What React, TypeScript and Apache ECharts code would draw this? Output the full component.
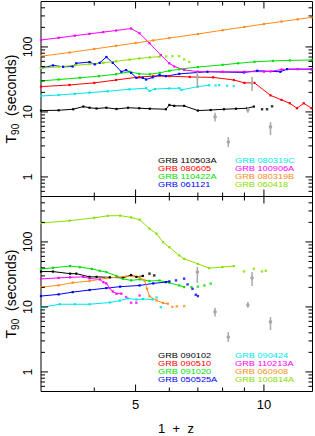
import React, { useEffect, useRef } from 'react';
import * as echarts from 'echarts';

type Pt = [number, number];

const FONT = 'Liberation Sans, Arial, Helvetica, sans-serif';

// ---------- legend / names ----------
const P1_NAMES = ['GRB 110503A', 'GRB 080605', 'GRB 110422A', 'GRB 061121', 'GRB 080319C', 'GRB 100906A', 'GRB 080319B', 'GRB 060418'];
const P2_NAMES = ['GRB 090102', 'GRB 090510', 'GRB 091020', 'GRB 050525A', 'GRB 090424', 'GRB 110213A', 'GRB 060908', 'GRB 100814A'];
const COLORS = ['#000000', '#ff0000', '#00e000', '#0000ff', '#00e6e6', '#ff00ff', '#ff8c1a', '#88e000'];

// ---------- axis ticks ----------
const X_MIN = 3;
const X_MAX = 13;
const Y_MIN = 0.5;
const Y_MAX = 500;
const X_MAJOR_TICKS = [5, 10];
const X_MINOR_TICKS = [4, 6, 7, 8, 9];
const Y_MAJOR_TICKS = [1, 10, 100];
const Y_MINOR_TICKS = [0.6, 0.7, 0.8, 0.9, 2, 3, 4, 5, 6, 7, 8, 9, 20, 30, 40, 50, 60, 70, 80, 90, 200, 300, 400];
const X_TICK_LABELS = [5, 10];
const Y_TICK_LABELS = [1, 10, 100];

// ---------- gray error-bar points (both panels) ----------
const ERR_X = [6.98, 9.38, 7.68, 9.17, 8.25, 10.36];
const ERR_Y = [34.5, 27.9, 8.4, 10.7, 3.45, 5.9];
const ERR_LO = [23.4, 21.0, 7.1, 9.7, 2.9, 4.4];
const ERR_HI = [41.3, 34.5, 9.7, 11.9, 4.1, 7.0];

// ---------- panel 1 series ----------
const P1_110503A: Pt[] = [[3.0, 10.5], [3.3, 10.6], [3.57, 11.0], [3.77, 12.1], [3.9, 11.6], [4.05, 11.3], [4.27, 11.6], [4.51, 11.1], [4.8, 11.6], [5.1, 11.4], [5.4, 11.2], [5.89, 11.0], [6.0, 12.8], [6.16, 12.4], [6.5, 12.4], [7.0, 10.5], [7.5, 10.7], [8.06, 11.0], [8.6, 11.2], [9.14, 11.4], [9.47, 12.1]];
const P1_110503A_DOTS: Pt[] = [[9.9, 11.0], [10.17, 11.0], [10.45, 12.2]];
const P1_080605: Pt[] = [[3.0, 24.5], [3.5, 26], [4.0, 28], [4.5, 31], [5.1, 34.5], [5.5, 35.5], [6.0, 35.5], [6.7, 34.5], [7.6, 34], [8.5, 31], [9.0, 28], [9.5, 28], [10.36, 18], [11.0, 15.3], [11.5, 13.6], [11.95, 11.4], [12.4, 13.6], [12.93, 11.4]];
const P1_110422A: Pt[] = [[3.0, 30], [3.3, 31.5], [3.7, 33.5], [4.1, 35.5], [4.5, 38], [4.84, 41.5], [5.1, 38.5], [5.4, 38], [5.7, 40], [6.0, 43], [6.33, 45.5], [7.0, 49], [8.0, 53], [8.7, 56], [9.5, 59], [10.5, 61], [11.5, 62], [12.93, 63]];
const P1_061121: Pt[] = [[3.0, 47], [3.2, 52], [3.38, 49.5], [3.56, 50], [3.63, 56], [3.9, 58.5], [4.01, 54], [4.12, 57], [4.27, 70], [4.42, 57], [4.63, 41.5], [4.75, 44], [4.88, 40], [5.02, 33.5], [5.2, 33.5], [5.29, 31.5], [5.48, 34], [5.69, 37], [5.89, 35.5], [6.33, 38.5], [7.37, 41.5], [8.98, 40.5], [9.64, 43], [10.93, 41.5], [11.33, 45.5], [12.93, 45.5]];
const P1_080319C: Pt[] = [[3.0, 17.6], [3.3, 18.2], [3.6, 19], [3.9, 19.8], [4.3, 20.8], [4.84, 22.3], [5.29, 23.2], [5.39, 21], [5.55, 22.5], [6.0, 23], [6.33, 23.2], [6.4, 21.8], [7.0, 24.5], [7.44, 25.7]];
const P1_080319C_DOTS: Pt[] = [[7.7, 25.5], [7.85, 25.8], [8.2, 25.3], [8.5, 25]];
const P1_100906A: Pt[] = [[3.0, 128], [3.3, 138], [3.6, 149], [3.9, 159], [4.2, 169], [4.5, 179], [4.88, 192], [5.11, 162], [5.39, 114], [5.73, 75], [6.0, 56], [6.16, 50], [6.5, 44.3], [7.0, 41.7], [8.0, 41.5], [9.0, 41.5], [10.0, 41.7], [10.36, 42], [11.0, 45], [12.0, 45.5], [12.93, 45.5]];
const P1_080319B: Pt[] = [[3.0, 72], [3.5, 82], [4.0, 93], [4.5, 104], [5.0, 115], [5.5, 126], [6.0, 137], [7.0, 158], [8.0, 181], [9.0, 203], [10.0, 225], [11.0, 246], [12.0, 266], [12.93, 285]];
const P1_060418: Pt[] = [[3.0, 47], [3.3, 49.5], [3.6, 52], [3.9, 54.5], [4.2, 57], [4.5, 60], [4.84, 64], [5.1, 66.5], [5.4, 69], [5.69, 71]];
const P1_060418_DOTS: Pt[] = [[5.9, 71.5], [6.1, 72], [6.33, 72], [6.5, 64.5], [6.68, 59]];

// ---------- panel 2 series ----------
const P2_090102: Pt[] = [[3.0, 35], [3.2, 35], [3.51, 32.5], [3.63, 32.5], [3.9, 29], [4.05, 29], [4.35, 28.5], [4.67, 28], [4.88, 31], [5.02, 29], [5.2, 30]];
const P2_090102_DOTS: Pt[] = [[5.39, 32.5], [5.53, 30.5]];
const P2_090510: Pt[] = [];
const P2_091020: Pt[] = [[3.0, 38.5], [3.2, 40], [3.51, 42.5], [3.7, 41], [3.95, 38.5], [4.12, 36], [4.27, 34.3], [4.51, 30], [4.67, 27], [4.88, 25.6], [5.11, 26.5], [5.39, 25], [5.69, 25.5], [6.0, 23.6], [6.33, 21.4], [6.5, 20.2]];
const P2_091020_DOTS: Pt[] = [[6.76, 20.2], [7.0, 20.5], [7.25, 21.4], [7.5, 22.8]];
const P2_050525A: Pt[] = [[3.0, 14.7], [3.3, 15.6], [3.56, 16.9], [3.9, 18.2], [4.27, 19.5], [4.6, 20.5], [5.11, 21.4], [5.5, 23], [5.89, 24.1], [6.0, 24.7]];
const P2_050525A_DOTS: Pt[] = [[6.22, 25.6], [6.5, 27.2], [6.62, 22.2], [6.8, 19], [6.92, 15.4], [7.0, 14.7]];
const P2_090424: Pt[] = [[3.0, 9.8], [3.32, 11], [3.6, 11], [3.9, 11], [4.35, 11.7], [4.59, 12.5], [4.8, 13.5], [5.02, 13], [5.2, 13.2], [5.48, 13]];
const P2_090424_DOTS: Pt[] = [[5.6, 14], [5.73, 9.9]];
const P2_110213A: Pt[] = [[3.0, 27], [3.3, 28], [3.51, 28.5], [3.77, 29], [3.9, 27.5], [4.12, 26.5], [4.2, 24], [4.27, 23], [4.35, 19.5], [4.42, 17.3], [4.51, 16], [4.63, 16]];
const P2_110213A_DOTS: Pt[] = [[4.75, 14.2], [4.88, 11.6], [5.02, 11.6], [5.11, 15]];
const P2_060908: Pt[] = [[3.0, 20.2], [3.3, 21.5], [3.56, 23.6], [3.9, 25], [4.27, 27.7], [4.75, 29.5], [4.95, 29.8], [5.11, 28.5], [5.25, 25.6], [5.32, 19], [5.39, 14.6], [5.6, 12.6], [5.8, 11.5], [5.95, 11.2]];
const P2_060908_DOTS: Pt[] = [[6.1, 10], [6.25, 10.2], [6.5, 10.3]];
const P2_100814A: Pt[] = [[3.0, 195], [3.5, 212], [4.0, 235], [4.3, 252], [4.6, 254], [4.88, 238], [5.11, 220], [5.39, 160], [5.6, 134], [5.8, 99], [6.0, 83], [6.33, 62], [6.5, 55], [7.0, 46], [7.44, 39.5], [7.99, 41], [8.5, 42.5]];
const P2_100814A_DOTS: Pt[] = [[8.98, 35.2], [9.47, 38.7], [9.9, 35.2], [10.1, 36]];

const P1_LINES: Pt[][] = [P1_110503A, P1_080605, P1_110422A, P1_061121, P1_080319C, P1_100906A, P1_080319B, P1_060418];
const P1_DOTS: Pt[][] = [P1_110503A_DOTS, [], [], [], P1_080319C_DOTS, [], [], P1_060418_DOTS];
const P2_LINES: Pt[][] = [P2_090102, P2_090510, P2_091020, P2_050525A, P2_090424, P2_110213A, P2_060908, P2_100814A];
const P2_DOTS: Pt[][] = [P2_090102_DOTS, [], P2_091020_DOTS, P2_050525A_DOTS, P2_090424_DOTS, P2_110213A_DOTS, P2_060908_DOTS, P2_100814A_DOTS];

// layout
const GRID_LEFT = 41;
const GRID_WIDTH = 271.5;
const GRID_H = 195;
const GRID_TOPS = [1.5, 196.5];

function buildOption() {
  const grids = GRID_TOPS.map((top) => ({
    left: GRID_LEFT, top, width: GRID_WIDTH, height: GRID_H,
    show: true, borderColor: '#000', borderWidth: 1, backgroundColor: 'transparent', containLabel: false,
  }));
  const hidden = { axisLine: { show: false }, axisTick: { show: false }, axisLabel: { show: false }, splitLine: { show: false } };
  const xAxes = GRID_TOPS.map((_, i) => ({ type: 'log', gridIndex: i, min: X_MIN, max: X_MAX, logBase: 10, ...hidden }));
  const yAxes = GRID_TOPS.map((_, i) => ({ type: 'log', gridIndex: i, min: Y_MIN, max: Y_MAX, logBase: 10, ...hidden }));

  const series: any[] = [];
  const addPanel = (idx: number, lines: Pt[][], dots: Pt[][], names: string[]) => {
    lines.forEach((d, k) => {
      series.push({
        type: 'line', name: names[k], xAxisIndex: idx, yAxisIndex: idx, data: d,
        symbol: 'rect', symbolSize: 2.2, showSymbol: true, showAllSymbol: true,
        lineStyle: { color: COLORS[k], width: 1 }, itemStyle: { color: COLORS[k] },
        silent: true, z: 2,
      });
      if (dots[k].length) {
        series.push({
          type: 'scatter', name: names[k] + ' pts', xAxisIndex: idx, yAxisIndex: idx, data: dots[k],
          symbol: 'rect', symbolSize: 2.4, itemStyle: { color: COLORS[k] }, silent: true, z: 2,
        });
      }
    });
    // error bars
    series.push({
      type: 'custom', xAxisIndex: idx, yAxisIndex: idx, silent: true, z: 3,
      data: ERR_X.map((x, i) => [x, ERR_Y[i], ERR_LO[i], ERR_HI[i]]),
      renderItem: (params: any, api: any) => {
        const x = api.value(0);
        const c = api.coord([x, api.value(1)]);
        const lo = api.coord([x, api.value(2)]);
        const hi = api.coord([x, api.value(3)]);
        return {
          type: 'group', children: [
            { type: 'line', shape: { x1: c[0], y1: lo[1], x2: c[0], y2: hi[1] }, style: { stroke: '#a8a8a8', lineWidth: 1.5 } },
            { type: 'circle', shape: { cx: c[0], cy: c[1], r: 1.8 }, style: { fill: '#a8a8a8' } },
          ],
        };
      },
    });
    // ticks and tick labels
    const tickData: number[][] = [];
    X_MAJOR_TICKS.forEach((v) => tickData.push([v, 1, 0]));
    X_MINOR_TICKS.forEach((v) => tickData.push([v, 1, 1]));
    Y_MAJOR_TICKS.forEach((v) => tickData.push([4, v, 2]));
    Y_MINOR_TICKS.forEach((v) => tickData.push([4, v, 3]));
    if (idx === 1) X_TICK_LABELS.forEach((v) => tickData.push([v, 1, 4]));
    Y_TICK_LABELS.forEach((v) => tickData.push([4, v, 5]));
    series.push({
      type: 'custom', xAxisIndex: idx, yAxisIndex: idx, silent: true, z: 5, clip: false,
      data: tickData,
      renderItem: (params: any, api: any) => {
        const cs = params.coordSys;
        const k = api.value(2);
        const xv = api.value(0);
        const yv = api.value(1);
        const p = api.coord([xv, yv]);
        const left = cs.x, right = cs.x + cs.width, top = cs.y, bottom = cs.y + cs.height;
        const st = { stroke: '#000', lineWidth: 1 };
        if (k === 0 || k === 1) {
          const len = k === 0 ? 7 : 4;
          return {
            type: 'group', children: [
              { type: 'line', shape: { x1: p[0], y1: bottom, x2: p[0], y2: bottom - len }, style: st },
              { type: 'line', shape: { x1: p[0], y1: top, x2: p[0], y2: top + len }, style: st },
            ],
          };
        }
        if (k === 2 || k === 3) {
          const len = k === 2 ? 7 : 4;
          return {
            type: 'group', children: [
              { type: 'line', shape: { x1: left, y1: p[1], x2: left + len, y2: p[1] }, style: st },
              { type: 'line', shape: { x1: right, y1: p[1], x2: right - len, y2: p[1] }, style: st },
            ],
          };
        }
        if (k === 4) {
          return {
            type: 'text', x: p[0], y: bottom + 12.5,
            style: { text: String(xv), fill: '#000', fontSize: 13, fontFamily: FONT, align: 'center', verticalAlign: 'middle' },
          };
        }
        return {
          type: 'text', x: left - 13.5, y: p[1], rotation: Math.PI / 2,
          style: { text: String(yv), fill: '#000', fontSize: 12.5, fontFamily: FONT, align: 'center', verticalAlign: 'middle' },
        };
      },
    });
  };
  addPanel(0, P1_LINES, P1_DOTS, P1_NAMES);
  addPanel(1, P2_LINES, P2_DOTS, P2_NAMES);

  // graphics: legends and axis titles
  const graphic: any[] = [];
  const legendRows = [160.5, 168.3, 176.1, 183.9];
  const legendCols = [158, 235];
  [P1_NAMES, P2_NAMES].forEach((names, pi) => {
    names.forEach((n, k) => {
      const col = Math.floor(k / 4);
      const row = k % 4;
      graphic.push({
        type: 'text', x: legendCols[col], y: legendRows[row] + pi * 195, scaleX: 1.15, silent: true, z: 10,
        style: { text: n, fill: COLORS[k], fontSize: 8, fontFamily: FONT, align: 'left', verticalAlign: 'middle' },
      });
    });
  });
  const rich = {
    a: { fontSize: 14, fontFamily: FONT, fill: '#000', lineHeight: 20, verticalAlign: 'middle' },
    b: { fontSize: 10, fontFamily: FONT, fill: '#000', lineHeight: 12, verticalAlign: 'bottom' },
  };
  [99, 294].forEach((cy) => {
    graphic.push({
      type: 'text', x: 10.5, y: cy, rotation: Math.PI / 2, silent: true, z: 10,
      style: { text: '{a|T}{b|90}{a|  (seconds)}', rich, align: 'center', verticalAlign: 'middle' },
    });
  });
  graphic.push({
    type: 'text', x: 176, y: 428.5, silent: true, z: 10,
    style: { text: '1  +  z', fill: '#000', fontSize: 13, fontFamily: FONT, align: 'center', verticalAlign: 'middle' },
  });

  return {
    animation: false,
    backgroundColor: '#ffffff',
    grid: grids,
    xAxis: xAxes,
    yAxis: yAxes,
    series,
    graphic,
  };
}

export default function App() {
  const ref = useRef<HTMLDivElement>(null);
  useEffect(() => {
    if (!ref.current) return;
    const chart = echarts.init(ref.current, undefined, { renderer: 'svg' });
    chart.setOption(buildOption() as any);
    return () => chart.dispose();
  }, []);
  return <div ref={ref} style={{ position: 'fixed', left: 0, top: 0, width: 315, height: 436 }} />;
}
